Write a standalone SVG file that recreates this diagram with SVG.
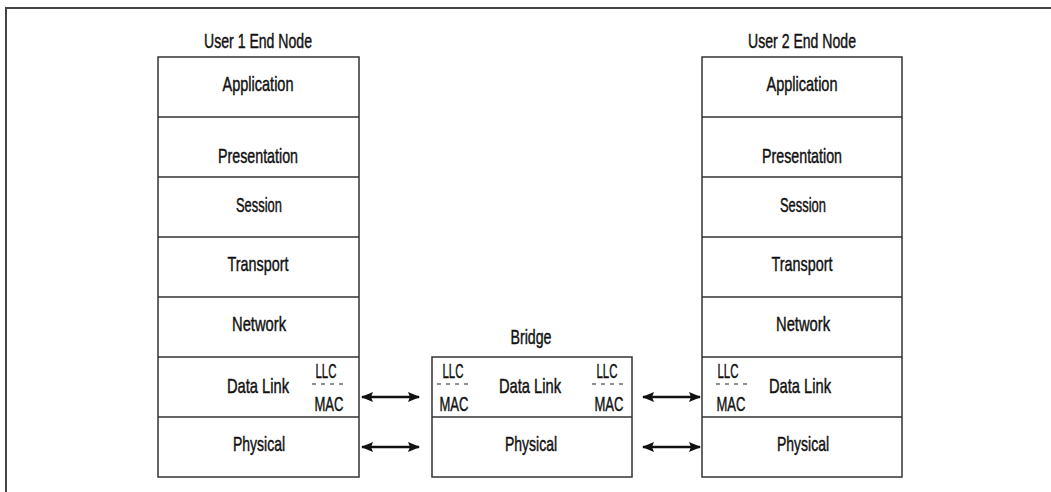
<svg xmlns="http://www.w3.org/2000/svg" width="1051" height="492" viewBox="0 0 1051 492">
<style>
.box{fill:#fff;stroke:#333;stroke-width:1.5}
.div{stroke:#333;stroke-width:1.5}
.t{font-family:"Liberation Sans",Arial,sans-serif;font-size:21px;fill:#111;stroke:#111;stroke-width:0.45;text-anchor:middle}
.dash{stroke:#222;stroke-width:1.2;stroke-dasharray:4,5}
.conn{stroke:#111;stroke-width:2.3;fill:none;marker-start:url(#ah);marker-end:url(#ah)}
</style>
<defs>
<marker id="ah" viewBox="0 0 12 10" refX="11" refY="5" markerWidth="12" markerHeight="10" markerUnits="userSpaceOnUse" orient="auto-start-reverse">
<path d="M0,0 L12,5 L0,10 L2,5 Z" fill="#111"/>
</marker>
</defs>
<rect width="1051" height="492" fill="#fff"/>
<path d="M6,492 V8 H1051" fill="none" stroke="#444" stroke-width="2"/>

<g id="user1">
<text class="t" x="258" y="48" textLength="108" lengthAdjust="spacingAndGlyphs">User 1 End Node</text>
<rect class="box" x="158" y="57" width="201" height="420"/>
<path class="div" d="M158,117H359M158,177H359M158,237H359M158,297H359M158,357H359M158,417H359"/>
<text class="t" x="258" y="91" textLength="71" lengthAdjust="spacingAndGlyphs">Application</text>
<text class="t" x="258" y="163" textLength="80" lengthAdjust="spacingAndGlyphs">Presentation</text>
<text class="t" x="259" y="212" textLength="46" lengthAdjust="spacingAndGlyphs">Session</text>
<text class="t" x="258" y="271" textLength="61" lengthAdjust="spacingAndGlyphs">Transport</text>
<text class="t" x="259" y="331" textLength="54" lengthAdjust="spacingAndGlyphs">Network</text>
<text class="t" x="258" y="393" textLength="62" lengthAdjust="spacingAndGlyphs">Data Link</text>
<text class="t" x="259" y="451" textLength="52" lengthAdjust="spacingAndGlyphs">Physical</text>
<text class="t" x="326" y="378" textLength="21" lengthAdjust="spacingAndGlyphs">LLC</text>
<line class="dash" x1="312" y1="384" x2="344" y2="384"/>
<text class="t" x="329" y="411" textLength="29" lengthAdjust="spacingAndGlyphs">MAC</text>
</g>

<g id="bridge">
<text class="t" x="531" y="344" textLength="41" lengthAdjust="spacingAndGlyphs">Bridge</text>
<rect class="box" x="432" y="357" width="200" height="120"/>
<path class="div" d="M432,417H632"/>
<text class="t" x="530" y="393" textLength="62" lengthAdjust="spacingAndGlyphs">Data Link</text>
<text class="t" x="531" y="451" textLength="52" lengthAdjust="spacingAndGlyphs">Physical</text>
<text class="t" x="453" y="378" textLength="21" lengthAdjust="spacingAndGlyphs">LLC</text>
<line class="dash" x1="437" y1="384" x2="469" y2="384"/>
<text class="t" x="454" y="411" textLength="29" lengthAdjust="spacingAndGlyphs">MAC</text>
<text class="t" x="607" y="378" textLength="21" lengthAdjust="spacingAndGlyphs">LLC</text>
<line class="dash" x1="592" y1="384" x2="624" y2="384"/>
<text class="t" x="609" y="411" textLength="29" lengthAdjust="spacingAndGlyphs">MAC</text>
</g>

<g id="user2">
<text class="t" x="802" y="48" textLength="108" lengthAdjust="spacingAndGlyphs">User 2 End Node</text>
<rect class="box" x="702" y="57" width="200" height="420"/>
<path class="div" d="M702,117H902M702,177H902M702,237H902M702,297H902M702,357H902M702,417H902"/>
<text class="t" x="802" y="91" textLength="71" lengthAdjust="spacingAndGlyphs">Application</text>
<text class="t" x="802" y="163" textLength="80" lengthAdjust="spacingAndGlyphs">Presentation</text>
<text class="t" x="803" y="212" textLength="46" lengthAdjust="spacingAndGlyphs">Session</text>
<text class="t" x="802" y="271" textLength="61" lengthAdjust="spacingAndGlyphs">Transport</text>
<text class="t" x="803" y="331" textLength="54" lengthAdjust="spacingAndGlyphs">Network</text>
<text class="t" x="800" y="393" textLength="62" lengthAdjust="spacingAndGlyphs">Data Link</text>
<text class="t" x="803" y="451" textLength="52" lengthAdjust="spacingAndGlyphs">Physical</text>
<text class="t" x="728" y="378" textLength="21" lengthAdjust="spacingAndGlyphs">LLC</text>
<line class="dash" x1="716" y1="384" x2="748" y2="384"/>
<text class="t" x="731" y="411" textLength="29" lengthAdjust="spacingAndGlyphs">MAC</text>
</g>

<g id="connectors">
<line class="conn" x1="362" y1="397" x2="419" y2="397"/>
<line class="conn" x1="362" y1="447" x2="419" y2="447"/>
<line class="conn" x1="643" y1="397" x2="700" y2="397"/>
<line class="conn" x1="643" y1="447" x2="700" y2="447"/>
</g>
</svg>
